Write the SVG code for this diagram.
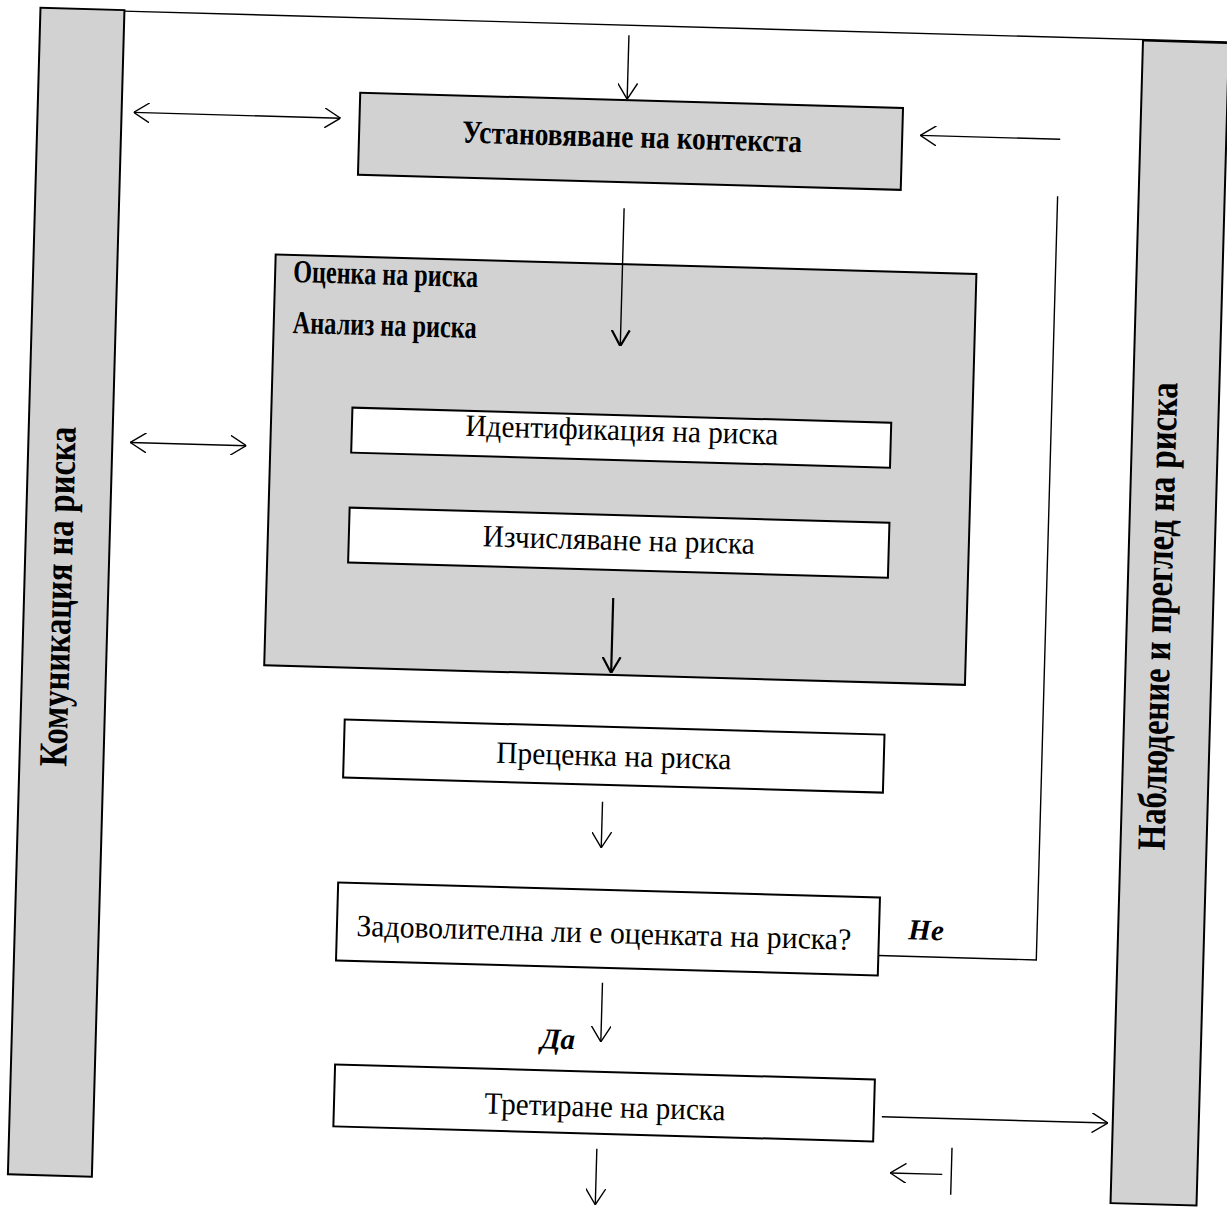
<svg xmlns="http://www.w3.org/2000/svg" width="1227" height="1212" viewBox="0 0 1227 1212">
<style>
.bar{fill:#d2d2d2;stroke:#000;stroke-width:2}
.gbox{fill:#d2d2d2;stroke:#000;stroke-width:2}
.wbox{fill:#fff;stroke:#000;stroke-width:2}
.ln{fill:none;stroke:#000;stroke-width:1.4}
.lnb{fill:none;stroke:#000;stroke-width:2.2}
text{font-family:"Liberation Serif","Times New Roman",serif;fill:#000}
.t{font-size:31px}
.tb{font-size:32px;font-weight:bold}
.tv{font-size:40px;font-weight:bold}
.bi{font-size:29px;font-weight:bold;font-style:italic}
</style>
<defs>
<marker id="ah" viewBox="0 0 16 20" refX="16" refY="10" markerWidth="16" markerHeight="20" markerUnits="userSpaceOnUse" orient="auto-start-reverse"><path d="M0,0 L16,10 L0,20" fill="none" stroke="#000" stroke-width="1.4"/></marker>
<marker id="ahb" viewBox="0 0 16 20" refX="16" refY="10" markerWidth="16" markerHeight="20" markerUnits="userSpaceOnUse" orient="auto"><path d="M0,1 L16,10 L0,19" fill="none" stroke="#000" stroke-width="2.2"/></marker>
</defs>
<rect width="1227" height="1212" fill="#fff"/>
<g transform="rotate(1.6 613 606)">
<g id="frame-top"><line x1="107" y1="25" x2="1240" y2="25" class="ln" stroke-width="1.8"/></g>
<g id="komunikacia">
<rect class="bar" x="24" y="24" width="84" height="1167"/>
<text class="tv" transform="translate(71 612) rotate(-90)" text-anchor="middle" textLength="340" lengthAdjust="spacingAndGlyphs">Комуникация на риска</text>
</g>
<g id="nabludenie">
<rect class="bar" x="1127" y="26" width="86" height="1163"/>
<text class="tv" transform="translate(1171 601) rotate(-90)" text-anchor="middle" textLength="468" lengthAdjust="spacingAndGlyphs">Наблюдение и преглед на риска</text>
</g>
<g id="kontekst">
<rect class="gbox" x="346" y="100" width="543" height="82"/>
<text class="tb" x="619" y="147" text-anchor="middle" textLength="340" lengthAdjust="spacingAndGlyphs">Установяване на контекста</text>
</g>
<g id="ocenka">
<rect class="gbox" x="266" y="264" width="701" height="411"/>
<text class="tb" x="284" y="291" font-size="30" textLength="185" lengthAdjust="spacingAndGlyphs">Оценка на риска</text>
<text class="tb" x="285" y="342" font-size="30" textLength="184" lengthAdjust="spacingAndGlyphs">Анализ на риска</text>
</g>
<g id="identifikacia">
<rect class="wbox" x="347" y="415" width="539" height="45"/>
<text class="t" x="617" y="440" text-anchor="middle" textLength="313" lengthAdjust="spacingAndGlyphs">Идентификация на риска</text>
</g>
<g id="izchisliavane">
<rect class="wbox" x="347" y="515" width="540" height="55"/>
<text class="t" x="617" y="550" text-anchor="middle" textLength="272" lengthAdjust="spacingAndGlyphs">Изчисляване на риска</text>
</g>
<g id="precenka">
<rect class="wbox" x="348" y="727" width="540" height="58"/>
<text class="t" x="618" y="766" text-anchor="middle" textLength="235" lengthAdjust="spacingAndGlyphs">Преценка на риска</text>
</g>
<g id="zadovolitelna">
<rect class="wbox" x="346" y="890" width="542" height="78"/>
<text class="t" x="613" y="943" text-anchor="middle" textLength="495" lengthAdjust="spacingAndGlyphs">Задоволителна ли е оценката на риска?</text>
</g>
<g id="tretirane">
<rect class="wbox" x="348" y="1072" width="540" height="62"/>
<text class="t" x="619" y="1117" text-anchor="middle" textLength="241" lengthAdjust="spacingAndGlyphs">Третиране на риска</text>
</g>
<g id="connectors">
<line class="ln" x1="613" y1="35" x2="613" y2="99" marker-end="url(#ah)"/>
<line class="ln" x1="120" y1="126" x2="327" y2="126" marker-start="url(#ah)" marker-end="url(#ah)"/>
<line class="ln" x1="1047" y1="127" x2="907" y2="127" marker-end="url(#ah)"/>
<line class="ln" x1="613" y1="208" x2="613" y2="346" marker-end="url(#ahb)"/>
<line class="ln" x1="126" y1="456" x2="242" y2="456" marker-start="url(#ah)" marker-end="url(#ah)"/>
<line class="lnb" x1="613" y1="598" x2="613" y2="673" marker-end="url(#ahb)"/>
<line class="ln" x1="608" y1="802" x2="608" y2="848" marker-end="url(#ah)"/>
<polyline class="ln" points="888,948 1046,948 1046,184"/>
<line class="ln" x1="613" y1="983" x2="613" y2="1042" marker-end="url(#ah)"/>
<line class="ln" x1="896" y1="1109" x2="1122" y2="1109" marker-end="url(#ah)"/>
<line class="ln" x1="958" y1="1165" x2="906" y2="1165" marker-end="url(#ah)"/>
<line class="ln" x1="967" y1="1138" x2="967" y2="1185"/>
<line class="ln" x1="612" y1="1149" x2="612" y2="1205" marker-end="url(#ah)"/>
</g>
<g id="labels">
<text class="bi" x="935" y="931" text-anchor="middle">Не</text>
<text class="bi" x="570" y="1050" text-anchor="middle">Да</text>
</g>
</g>
</svg>
